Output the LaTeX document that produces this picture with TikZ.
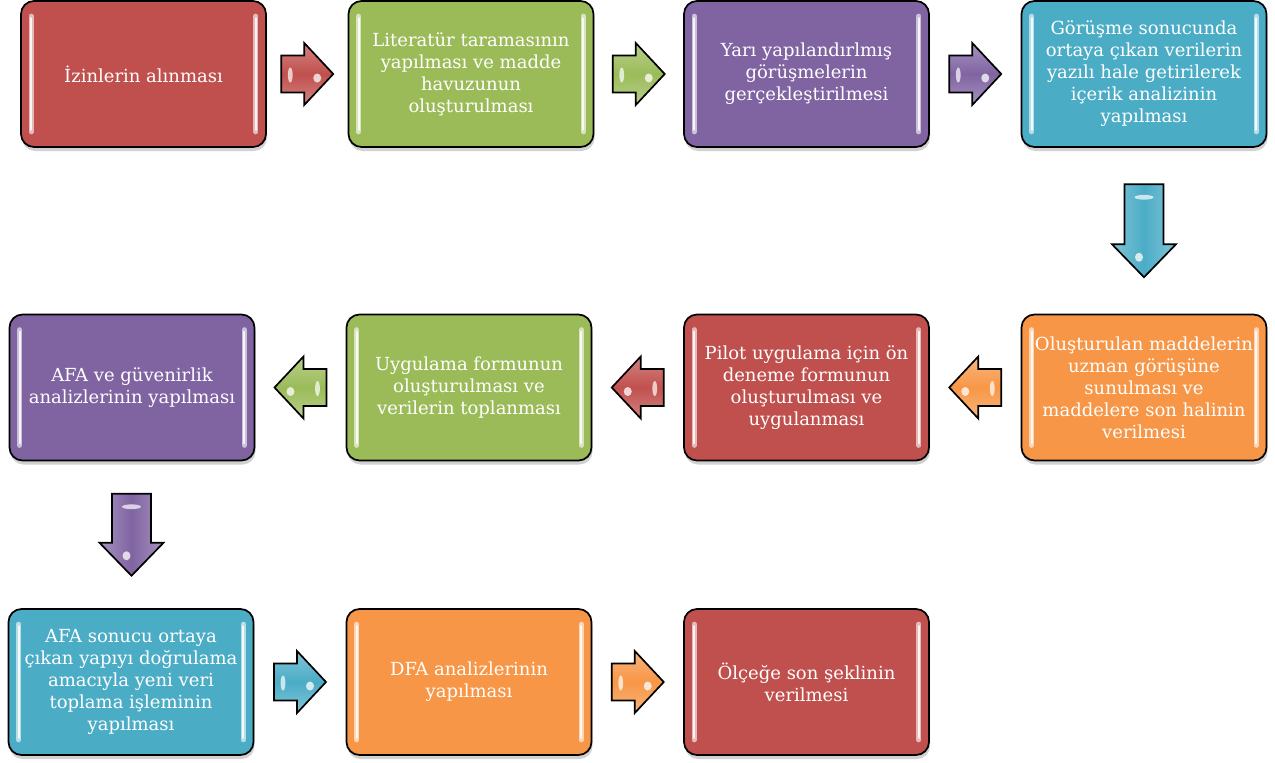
\documentclass[tikz,border=0pt]{standalone}
\usepackage{fontspec}
\setmainfont{DejaVu Serif}
\usetikzlibrary{shadows,calc}
\definecolor{cRed}{HTML}{C0504D}
\definecolor{cGreen}{HTML}{9BBB59}
\definecolor{cPurple}{HTML}{8064A2}
\definecolor{cBlue}{HTML}{4BACC6}
\definecolor{cOrange}{HTML}{F79646}
\tikzset{
  box/.style={draw=black, line width=1.7pt, rounded corners=13pt,
    minimum width=245pt, minimum height=146pt, text=white, align=center,
    font=\fontsize{18}{22}\selectfont, inner sep=0pt,
    drop shadow={shadow xshift=1pt, shadow yshift=-4pt, opacity=0.18, fill=black}},
  hl/.style={line width=5pt, line cap=round, draw=#1!40!white},
  hlc/.style={line width=1.8pt, line cap=round, draw=white, opacity=0.85},
  arr/.style={draw=black, line width=1.7pt, line join=miter},
  pics/rarr/.style={code={
    \path[arr, top color=#1!70!white, bottom color=#1!70!white, middle color=#1]
      (-26,-18.5) -- (-3,-18.5) -- (-3,-31) -- (26,0) -- (-3,31) -- (-3,18.5) -- (-26,18.5) -- cycle;
    \fill[white, opacity=0.7] (-17,1) ellipse [x radius=2.4, y radius=7.5];
    \fill[white, opacity=0.75] (10,4) ellipse [x radius=4, y radius=4.5];
  }},
  pics/darr/.style n args={2}{code={
    \path[arr, left color=#1!70!white, right color=#1!70!white, middle color=#1]
      (-19.5,-#2/2) -- (19.5,-#2/2) -- (19.5,#2/2-33) -- (32,#2/2-33) -- (0,#2/2) -- (-32,#2/2-33) -- (-19.5,#2/2-33) -- cycle;
    \fill[white, opacity=0.7] (0,-#2/2+13) ellipse [x radius=9.5, y radius=2.4];
    \fill[white, opacity=0.75] (-5,#2/2-20) ellipse [x radius=4, y radius=4.5];
  }},
}
\begin{document}
\begin{tikzpicture}[x=1pt, y=-1pt]
\useasboundingbox (0,0) rectangle (1275,763);
% row 1
\node[box, fill=cRed]    (b1) at (143.5,74) {İzinlerin alınması};
\node[box, fill=cGreen]  (b2) at (471,74) {Literatür taramasının\\yapılması ve madde\\havuzunun\\oluşturulması};
\node[box, fill=cPurple] (b3) at (806.5,74) {Yarı yapılandırlmış\\görüşmelerin\\gerçekleştirilmesi};
\node[box, fill=cBlue]   (b4) at (1144,74) {Görüşme sonucunda\\ortaya çıkan verilerin\\yazılı hale getirilerek\\içerik analizinin\\yapılması};
% row 2
\node[box, fill=cOrange] (b5) at (1144,387.5) {Oluşturulan maddelerin\\uzman görüşüne\\sunulması ve\\maddelere son halinin\\verilmesi};
\node[box, fill=cRed]    (b6) at (806.5,387.5) {Pilot uygulama için ön\\deneme formunun\\oluşturulması ve\\uygulanması};
\node[box, fill=cGreen]  (b7) at (469,387.5) {Uygulama formunun\\oluşturulması ve\\verilerin toplanması};
\node[box, fill=cPurple] (b8) at (132,387.5) {AFA ve güvenirlik\\analizlerinin yapılması};
% row 3
\node[box, fill=cBlue]   (b9) at (131,682) {AFA sonucu ortaya\\çıkan yapıyı doğrulama\\amacıyla yeni veri\\toplama işleminin\\yapılması};
\node[box, fill=cOrange] (b10) at (469,682) {DFA analizlerinin\\yapılması};
\node[box, fill=cRed]    (b11) at (806.5,682) {Ölçeğe son şeklinin\\verilmesi};
% highlight stripes
\foreach \n/\c in {b1/cRed,b2/cGreen,b3/cPurple,b4/cBlue,b5/cOrange,b6/cRed,b7/cGreen,b8/cPurple,b9/cBlue,b10/cOrange,b11/cRed}{
  \draw[hl=\c] ([xshift=11pt,yshift=-16pt]\n.north west) -- ([xshift=11pt,yshift=16pt]\n.south west);
  \draw[hlc] ([xshift=11pt,yshift=-18pt]\n.north west) -- ([xshift=11pt,yshift=18pt]\n.south west);
  \draw[hl=\c] ([xshift=-11pt,yshift=-16pt]\n.north east) -- ([xshift=-11pt,yshift=16pt]\n.south east);
  \draw[hlc] ([xshift=-11pt,yshift=-18pt]\n.north east) -- ([xshift=-11pt,yshift=18pt]\n.south east);
}
% block arrows
\pic at ($(b1.east)!0.5!(b2.west)$) {rarr=cRed};
\pic at ($(b2.east)!0.5!(b3.west)$) {rarr=cGreen};
\pic at ($(b3.east)!0.5!(b4.west)$) {rarr=cPurple};
\pic at ($(b4.south)!0.5!(b5.north)$) {darr={cBlue}{93}};
\pic[xscale=-1] at ($(b5.west)!0.5!(b6.east)$) {rarr=cOrange};
\pic[xscale=-1] at ($(b6.west)!0.5!(b7.east)$) {rarr=cRed};
\pic[xscale=-1] at ($(b7.west)!0.5!(b8.east)$) {rarr=cGreen};
\pic at ($(b8.south)!0.5!(b9.north)$) {darr={cPurple}{82}};
\pic at ($(b9.east)!0.5!(b10.west)$) {rarr=cBlue};
\pic at ($(b10.east)!0.5!(b11.west)$) {rarr=cOrange};
\end{tikzpicture}
\end{document}
